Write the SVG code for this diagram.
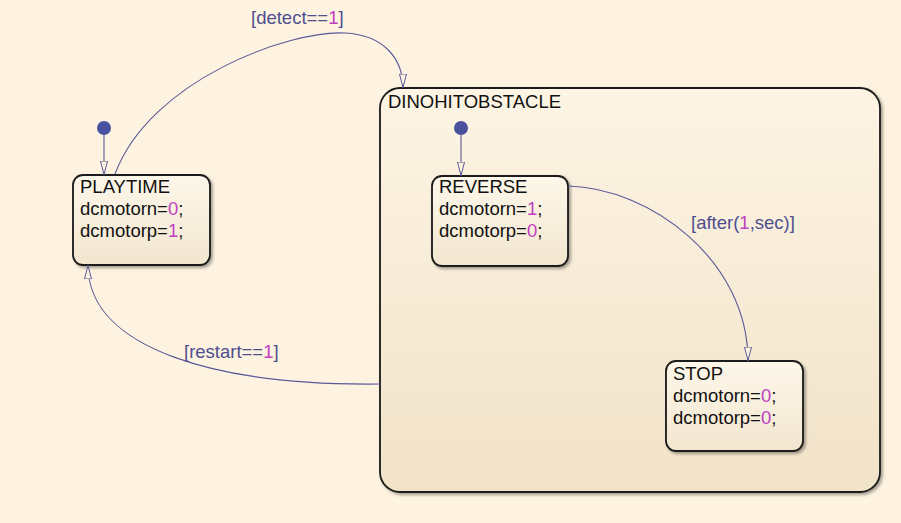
<svg xmlns="http://www.w3.org/2000/svg" width="901" height="523" viewBox="0 0 901 523">
<defs>
<style>
.st{stroke:#1a1a1a;stroke-width:1.8;fill:url(#g1);filter:url(#sh)}
.sup{stroke:#1a1a1a;stroke-width:1.8;fill:url(#g2);filter:url(#sh)}
.t{font-family:"Liberation Sans",Arial,sans-serif;font-size:18.5px;fill:#111}
.n{fill:#c040c0}
.lb{font-family:"Liberation Sans",Arial,sans-serif;font-size:18.5px;fill:#4f4f8f}
.c{fill:none;stroke:#5a5a98;stroke-width:1.1;marker-end:url(#ah)}
.dot{fill:#4a52a0}
</style>
<linearGradient id="g1" x1="0" y1="0" x2="0" y2="1">
<stop offset="0" stop-color="#fdf7ea"/>
<stop offset="1" stop-color="#f2e6cf"/>
</linearGradient>
<linearGradient id="g2" x1="0" y1="0" x2="0" y2="1">
<stop offset="0" stop-color="#fdf4e4"/>
<stop offset="1" stop-color="#f1e3c8"/>
</linearGradient>
<filter id="sh" x="-10%" y="-10%" width="120%" height="120%">
<feDropShadow dx="2" dy="2" stdDeviation="1.5" flood-color="#000" flood-opacity="0.35"/>
</filter>
<marker id="ah" viewBox="0 0 14 8" refX="14" refY="4" markerWidth="14" markerHeight="8" markerUnits="userSpaceOnUse" orient="auto">
<path d="M0,0.5 L13.5,4 L0,7.5 Z" fill="#fdf3e0" stroke="#5a5a98" stroke-width="1"/>
</marker>
</defs>
<rect width="901" height="523" fill="#fdf3e0"/>
<g id="DINOHITOBSTACLE">
<rect class="sup" x="380" y="88" width="500" height="404" rx="20"/>
<text class="t" x="388" y="108">DINOHITOBSTACLE</text>
</g>
<g id="PLAYTIME">
<rect class="st" x="73" y="175" width="137" height="90" rx="10"/>
<text class="t" x="80" y="193">PLAYTIME</text>
<text class="t" x="80" y="215">dcmotorn=<tspan class="n">0</tspan>;</text>
<text class="t" x="80" y="237">dcmotorp=<tspan class="n">1</tspan>;</text>
</g>
<g id="REVERSE">
<rect class="st" x="432" y="176" width="136" height="90" rx="10"/>
<text class="t" x="439" y="193">REVERSE</text>
<text class="t" x="439" y="215">dcmotorn=<tspan class="n">1</tspan>;</text>
<text class="t" x="439" y="237">dcmotorp=<tspan class="n">0</tspan>;</text>
</g>
<g id="STOP">
<rect class="st" x="666" y="361" width="137" height="90" rx="10"/>
<text class="t" x="673" y="380">STOP</text>
<text class="t" x="673" y="402">dcmotorn=<tspan class="n">0</tspan>;</text>
<text class="t" x="673" y="424">dcmotorp=<tspan class="n">0</tspan>;</text>
</g>
<g id="connectors">
<circle class="dot" cx="104" cy="128" r="7"/>
<path class="c" d="M104,135 L104,175"/>
<circle class="dot" cx="461" cy="128" r="7"/>
<path class="c" d="M461,135 L461,176"/>
<path class="c" d="M115,174 C150,80 290,30 345,33 C385,35 403,60 403,88"/>
<text class="lb" x="251" y="24">[detect==<tspan class="n">1</tspan>]</text>
<path class="c" d="M568,186 C650,188 748,260 748,361"/>
<text class="lb" x="691" y="229">[after(<tspan class="n">1</tspan>,sec)]</text>
<path class="c" d="M380,384 C220,386 88,350 88,265"/>
<text class="lb" x="184" y="358">[restart==<tspan class="n">1</tspan>]</text>
</g>
</svg>
